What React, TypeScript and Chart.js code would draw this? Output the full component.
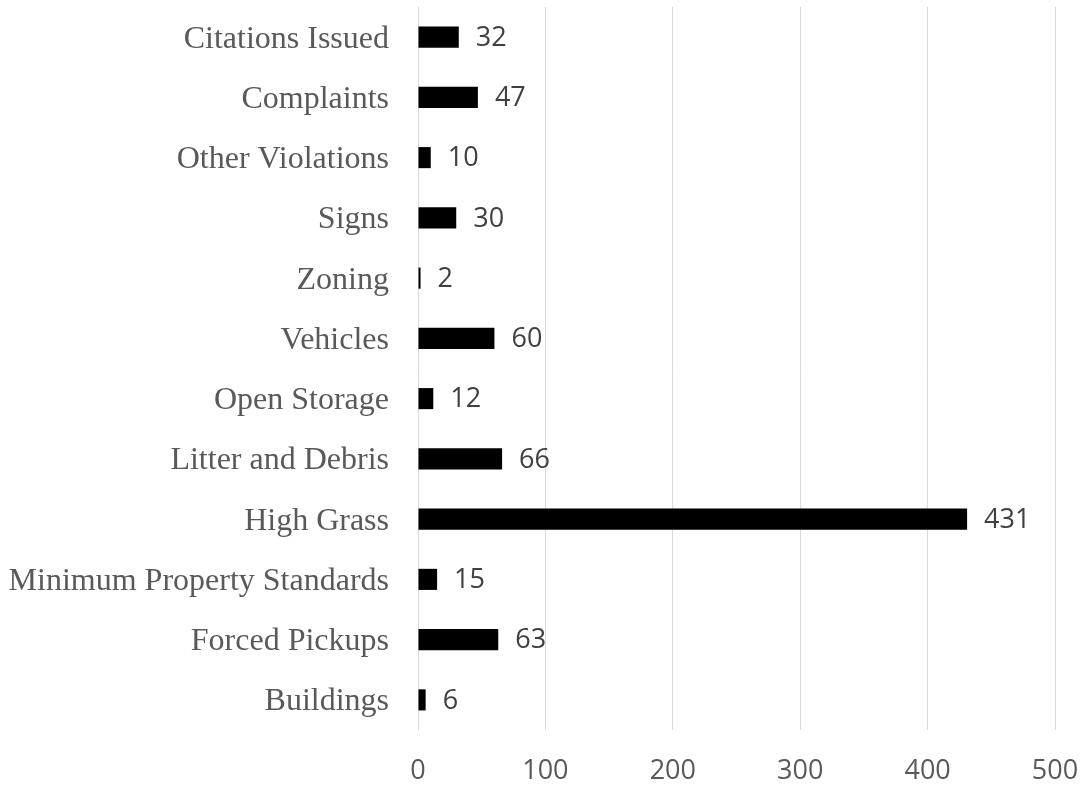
import React, { useEffect, useRef } from "react";
import { Chart, registerables } from "chart.js";

Chart.register(...registerables);

const categories = [
  "Citations Issued",
  "Complaints",
  "Other Violations",
  "Signs",
  "Zoning",
  "Vehicles",
  "Open Storage",
  "Litter and Debris",
  "High Grass",
  "Minimum Property Standards",
  "Forced Pickups",
  "Buildings",
];
const values = [32, 47, 10, 30, 2, 60, 12, 66, 431, 15, 63, 6];
const xTickMin = 0;
const xTickMax = 500;
const xTickStep = 100;

const valueLabels = {
  id: "valueLabels",
  afterDatasetsDraw(chart: any) {
    const ctx = chart.ctx;
    const meta = chart.getDatasetMeta(0);
    ctx.save();
    ctx.font = '27px "Open Sans"';
    ctx.fillStyle = "#404040";
    ctx.textAlign = "left";
    ctx.textBaseline = "middle";
    meta.data.forEach((bar: any, i: number) => {
      ctx.fillText(String(values[i]), bar.x + 17, bar.y + 1);
    });
    ctx.restore();
  },
};

export default function App() {
  const ref = useRef<HTMLCanvasElement>(null);
  useEffect(() => {
    const chart = new Chart(ref.current!, {
      type: "bar",
      data: {
        labels: categories,
        datasets: [
          {
            data: values,
            backgroundColor: "#000000",
            borderWidth: 0,
            barPercentage: 0.35,
            categoryPercentage: 1,
          },
        ],
      },
      options: {
        indexAxis: "y",
        animation: false,
        responsive: false,
        maintainAspectRatio: false,
        layout: { padding: { left: 0, right: 29, top: 7, bottom: 0 } },
        plugins: { legend: { display: false }, tooltip: { enabled: false } },
        scales: {
          x: {
            min: xTickMin,
            max: xTickMax,
            ticks: {
              stepSize: xTickStep,
              color: "#595959",
              font: { family: '"Open Sans"', size: 27 },
              padding: 25,
            },
            grid: { color: "#d9d9d9", lineWidth: 1, drawTicks: false },
            border: { display: false },
            afterFit: (s: any) => {
              s.height = 56;
              s.paddingLeft = 0;
              s.paddingRight = 0;
            },
          },
          y: {
            ticks: {
              color: "#595959",
              font: { family: '"Liberation Serif"', size: 32 },
              padding: 29,
              labelOffset: 2,
            },
            grid: { display: false, drawTicks: false },
            border: { display: false },
            afterFit: (s: any) => {
              s.width = 418;
              s.paddingTop = 0;
              s.paddingBottom = 0;
            },
          },
        },
      },
      plugins: [valueLabels],
    });
    return () => chart.destroy();
  }, []);
  return (
    <div style={{ position: "fixed", left: 0, top: 0, width: 1084, height: 786, background: "#fff" }}>
      <canvas ref={ref} width={1084} height={786} />
    </div>
  );
}
